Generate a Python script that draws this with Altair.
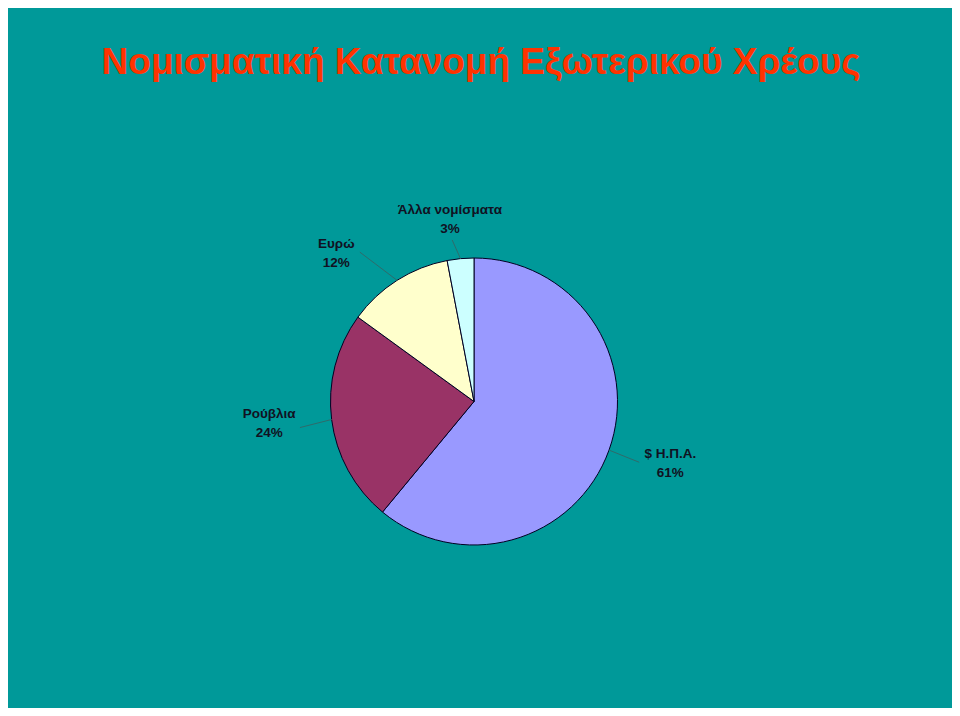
import altair as alt
import pandas as pd

# ---- data ----
title_text = "Νομισματική Κατανομή Εξωτερικού Χρέους"
categories = ["$ Η.Π.Α.", "Ρούβλια", "Ευρώ", "Άλλα νομίσματα"]
values = [61, 24, 12, 3]
colors = ["#9999FF", "#993366", "#FFFFCC", "#CCFFFF"]

df = pd.DataFrame({"cat": categories, "value": values, "ord": list(range(len(categories)))})
title_df = pd.DataFrame({"t": [title_text]})

# ---- layout (pixels inside the chart) ----
W, H = 944, 700
CX, CY = 466, 393.5
R = 143.5

base = alt.Chart(df).transform_joinaggregate(
    total="sum(value)"
).transform_window(
    cum="sum(value)", sort=[alt.SortField("ord")], frame=[None, 0]
).transform_calculate(
    mid="2*PI*(datum.cum - datum.value/2)/datum.total"
)

pie = alt.Chart(df).mark_arc(radius=R, stroke="#000022", strokeWidth=1).encode(
    theta=alt.Theta("value:Q", stack=True),
    order=alt.Order("ord:Q"),
    color=alt.Color("cat:N", scale=alt.Scale(domain=categories, range=colors), legend=None),
    x=alt.value(CX),
    y=alt.value(CY),
)

# label placement tweaks (angle offsets in radians, radius in px)
lab = base.transform_calculate(
    la="datum.mid + (datum.cat == 'Ευρώ' ? -0.185 : datum.cat == 'Άλλα νομίσματα' ? -0.037 : datum.cat == '$ Η.Π.Α.' ? -0.038 : 0.019)",
    lr="datum.cat == 'Άλλα νομίσματα' ? 184 : (datum.cat == 'Ευρώ' ? 202 : 206)",
    lx=f"{CX} + datum.lr*sin(datum.la)",
    ly=f"{CY} - datum.lr*cos(datum.la)",
    lbl="datum.cat + '\\n' + format(datum.value, 'd') + '%'",
)

labels = lab.mark_text(
    font="Liberation Sans", fontSize=13.5, fontWeight="bold", color="#111122",
    lineBreak="\n", lineHeight=19, align="center", baseline="middle", dy=-9.5,
).encode(
    x=alt.X("lx:Q", scale=None),
    y=alt.Y("ly:Q", scale=None),
    text="lbl:N",
)

leader = base.transform_calculate(
    la2="datum.mid + (datum.cat == 'Ευρώ' ? -0.087 : datum.cat == 'Άλλα νομίσματα' ? -0.04 : datum.cat == 'Ρούβλια' ? -0.023 : 0.007)",
    r2="datum.cat == 'Άλλα νομίσματα' ? 163 : (datum.cat == 'Ευρώ' ? 188 : 176)",
    x1=f"{CX} + {R}*sin(datum.mid)",
    y1=f"{CY} - {R}*cos(datum.mid)",
    x2=f"{CX} + datum.r2*sin(datum.la2)",
    y2=f"{CY} - datum.r2*cos(datum.la2)",
).mark_rule(color="#2f6b6b", strokeWidth=1).encode(
    x=alt.X("x1:Q", scale=None),
    y=alt.Y("y1:Q", scale=None),
    x2="x2:Q",
    y2="y2:Q",
)

title = alt.Chart(title_df).mark_text(
    font="Liberation Sans", fontSize=37, fontWeight="bold", color="#FF3300",
    align="center", baseline="alphabetic",
).encode(
    x=alt.value(473),
    y=alt.value(66),
    text="t:N",
)

chart = alt.layer(pie, leader, labels, title).properties(
    width=W, height=H,
    background="#009999",
    padding=0,
    autosize=alt.AutoSizeParams(type="none"),
).configure_view(stroke=None)

chart.save("out.html", embed_options={"renderer": "svg", "actions": False})
